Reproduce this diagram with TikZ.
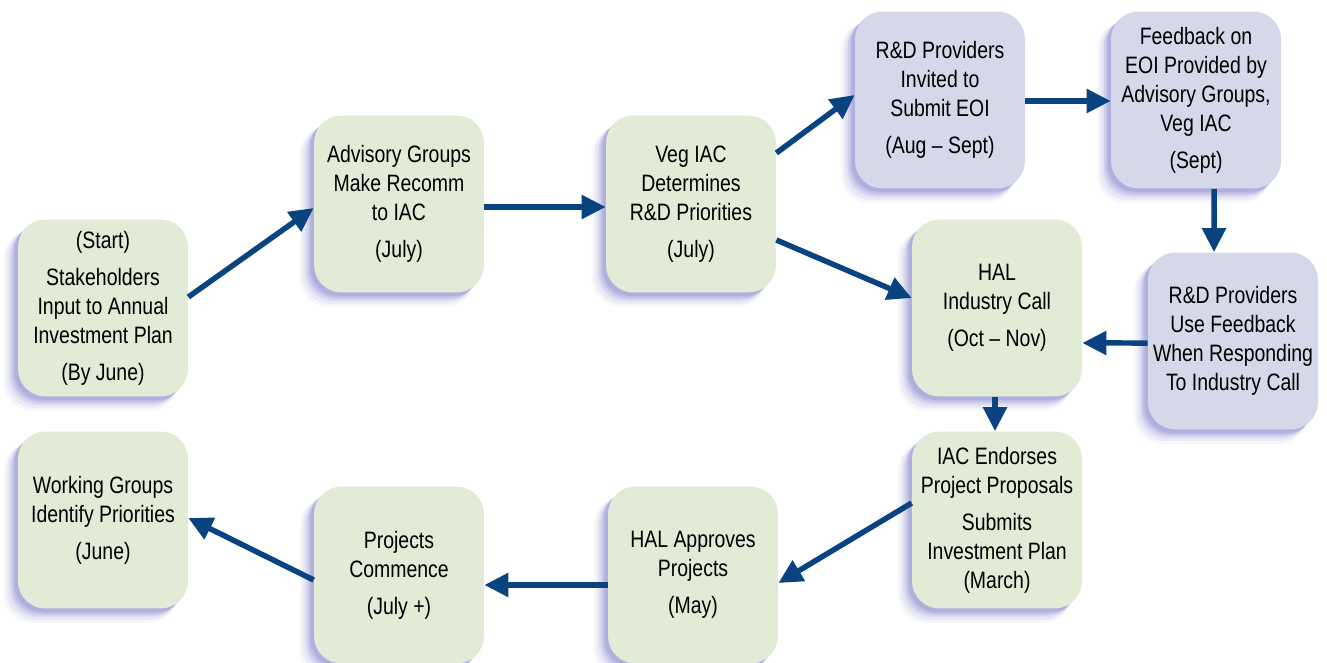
\documentclass[tikz,border=0pt]{standalone}
\usepackage{fontspec}
\setmainfont{Liberation Sans}[FakeStretch=0.82]
\usetikzlibrary{arrows.meta,shadows}

\definecolor{greenbox}{RGB}{225,235,214}
\definecolor{bluebox}{RGB}{213,216,232}
\definecolor{arrowblue}{RGB}{10,68,128}
\definecolor{shadowblue}{RGB}{80,80,185}

\begin{document}
\begin{tikzpicture}[
  x={(0.02cm,0cm)},
  y={(0cm,-0.02cm)},
  stage/.style={rounded corners=0.55cm, minimum width=3.4cm, minimum height=3.54cm,
    align=center, inner sep=0pt, font=\fontsize{13.5}{16.5}\selectfont,
    general shadow={shadow xshift=-7pt, shadow yshift=-7pt, shadow scale=1.02, fill=shadowblue, opacity=.05},
    general shadow={shadow xshift=-6pt, shadow yshift=-6pt, shadow scale=1.01, fill=shadowblue, opacity=.07},
    general shadow={shadow xshift=-5pt, shadow yshift=-5pt, fill=shadowblue, opacity=.08},
    general shadow={shadow xshift=-4pt, shadow yshift=-4pt, fill=shadowblue, opacity=.1},
    general shadow={shadow xshift=-3pt, shadow yshift=-3pt, fill=shadowblue, opacity=.12},
    general shadow={shadow xshift=-2pt, shadow yshift=-2pt, fill=shadowblue, opacity=.14}},
  hortstage/.style={stage, fill=greenbox},
  rdstage/.style={stage, fill=bluebox},
  flow/.style={draw=arrowblue, line width=0.11cm, -{Triangle[length=0.48cm,width=0.46cm]}}
]
  \useasboundingbox (0,0) rectangle (1327,662);

  % boxes
  \node[hortstage] (start) at (103,308) {(Start)\\[4.5pt] Stakeholders\\ Input to Annual\\ Investment Plan\\[4.5pt] (By June)};
  \node[hortstage] (advisory) at (399,204) {Advisory Groups\\ Make Recomm\\ to IAC\\[4.5pt] (July)};
  \node[hortstage] (vegiac) at (691,204) {Veg IAC\\ Determines\\ R\&D Priorities\\[4.5pt] (July)};
  \node[rdstage] (invited) at (940,100) {R\&D Providers\\ Invited to\\ Submit EOI\\[4.5pt] (Aug -- Sept)};
  \node[rdstage] (feedback) at (1196,100) {Feedback on\\ EOI Provided by\\ Advisory Groups,\\ Veg IAC\\[4.5pt] (Sept)};
  \node[rdstage] (respond) at (1233,341) {R\&D Providers\\ Use Feedback\\ When Responding\\ To Industry Call};
  \node[hortstage] (call) at (997,308) {HAL\\ Industry Call\\[4.5pt] (Oct -- Nov)};
  \node[hortstage] (endorse) at (997,520) {IAC Endorses\\ Project Proposals\\[4.5pt] Submits\\ Investment Plan\\ (March)};
  \node[hortstage] (approve) at (693,575) {HAL Approves\\ Projects\\[4.5pt] (May)};
  \node[hortstage] (commence) at (399,575) {Projects\\ Commence\\[4.5pt] (July +)};
  \node[hortstage] (working) at (103,520) {Working Groups\\ Identify Priorities\\[4.5pt] (June)};

  % arrows
  \draw[flow] ([yshift=0.22cm]start.east) -- ([yshift=-0.08cm]advisory.west);
  \draw[flow] ([yshift=-0.06cm]advisory.east) -- ([yshift=-0.06cm]vegiac.west);
  \draw[flow] ([yshift=1.02cm]vegiac.east) -- ([yshift=0.1cm]invited.west);
  \draw[flow] ([yshift=-0.02cm]invited.east) -- ([yshift=-0.02cm]feedback.west);
  \draw[flow] ([xshift=0.36cm]feedback.south) -- ([xshift=-0.38cm]respond.north);
  \draw[flow] ([yshift=-0.04cm]respond.west) -- ([yshift=-0.7cm]call.east);
  \draw[flow] ([yshift=-0.72cm]vegiac.east) -- ([yshift=0.2cm]call.west);
  \draw[flow] ([xshift=-0.04cm]call.south) -- ([xshift=-0.04cm]endorse.north);
  \draw[flow] ([yshift=0.34cm]endorse.west) -- ([yshift=-0.16cm]approve.east);
  \draw[flow] ([yshift=-0.2cm]approve.west) -- ([yshift=-0.2cm]commence.east);
  \draw[flow] ([yshift=-0.1cm]commence.west) -- ([yshift=0.04cm]working.east);
\end{tikzpicture}
\end{document}
